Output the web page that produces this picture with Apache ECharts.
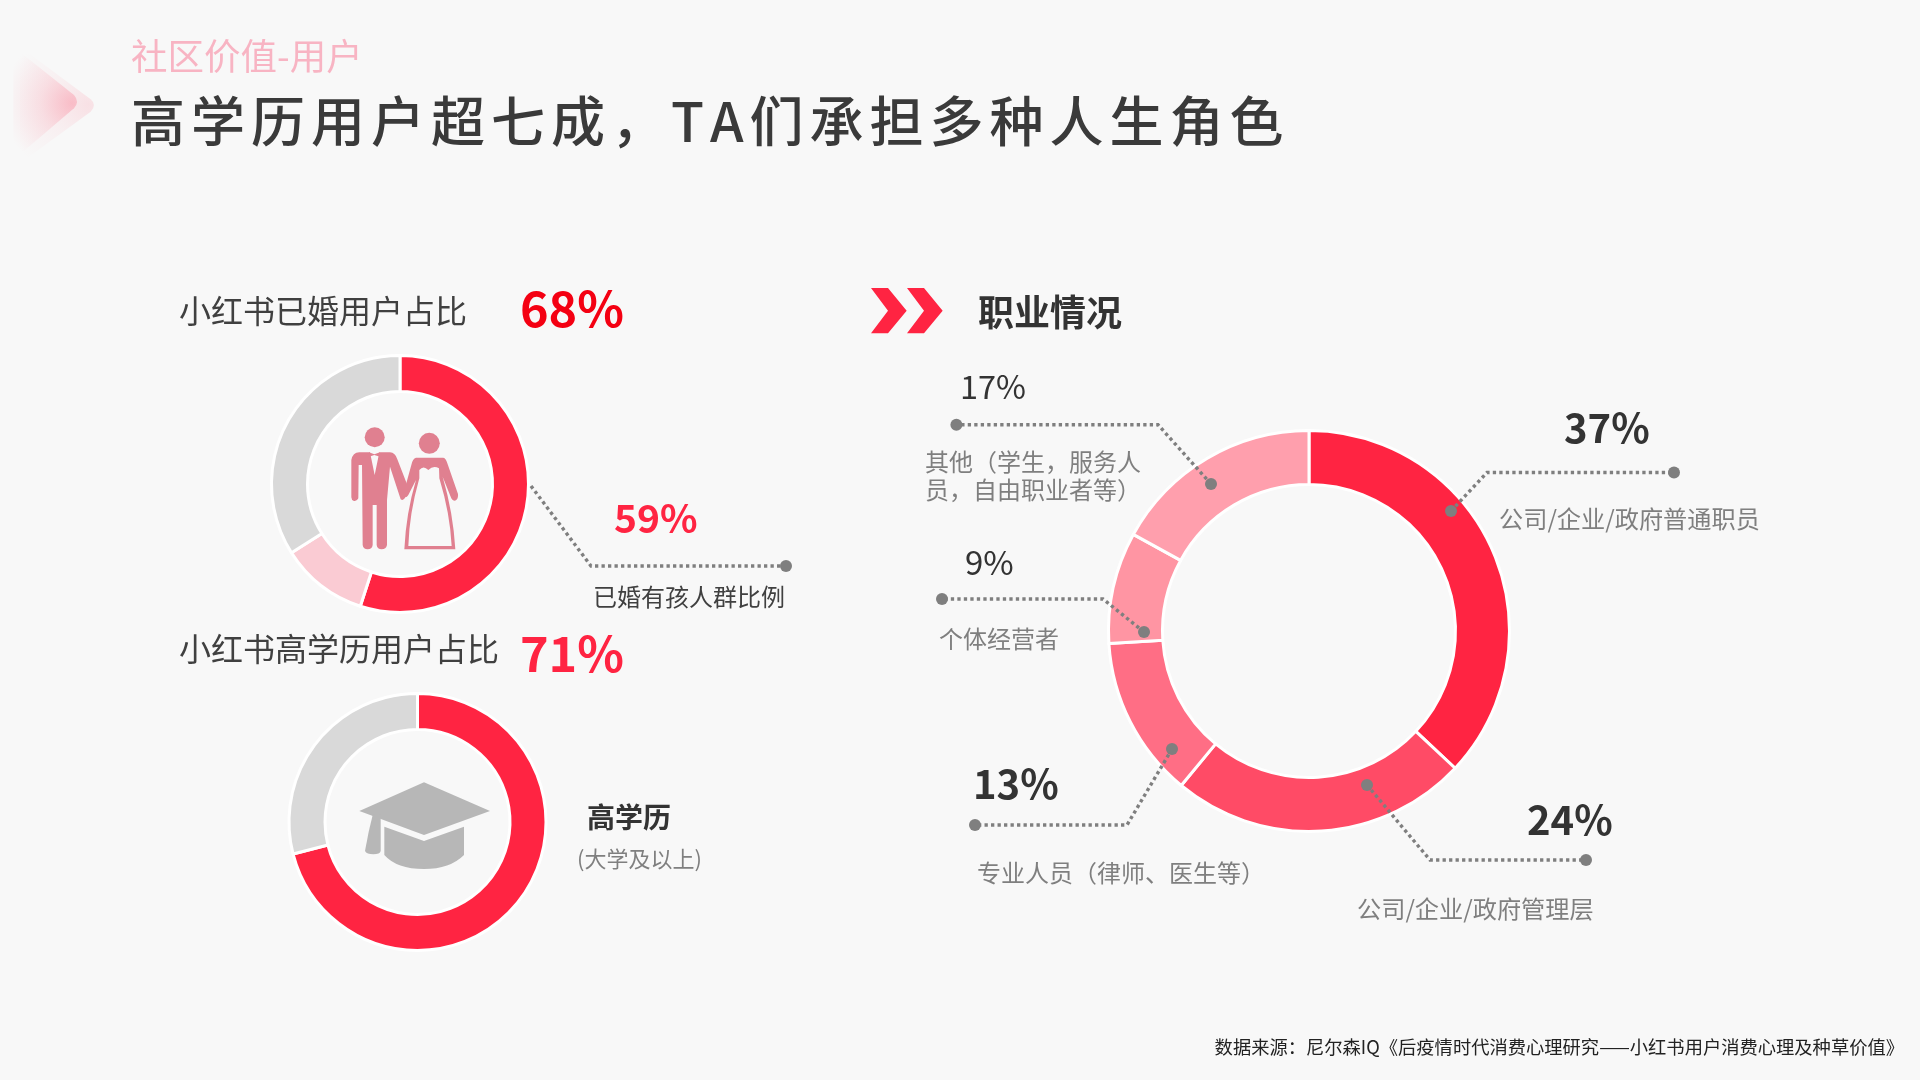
<!DOCTYPE html>
<html>
<head>
<meta charset="utf-8">
<title>社区价值-用户</title>
<style>
html,body{margin:0;padding:0;background:#f8f8f8;}
#main{width:1920px;height:1080px;}
</style>
<script src="https://cdn.jsdelivr.net/npm/echarts@6/dist/echarts.min.js"></script>
</head>
<body>
<div id="main"></div>
<script>
// data
var pageTag = '社区价值-用户';
var pageTitle = '高学历用户超七成，TA们承担多种人生角色';
var sourceNote = '数据来源：尼尔森IQ《后疫情时代消费心理研究——小红书用户消费心理及种草价值》';

var marriedTitle = '小红书已婚用户占比';
var marriedShare = 68;
var marriedNames = ['已婚有孩', '已婚无孩', '其他'];
var marriedValues = [55, 11, 34];
var kidsShare = 59;
var kidsLabel = '已婚有孩人群比例';

var degreeTitle = '小红书高学历用户占比';
var degreeShare = 71;
var degreeNames = ['高学历', '其他'];
var degreeValues = [71, 29];
var degreeLabel = '高学历';
var degreeNote = '(大学及以上)';

var jobTitle = '职业情况';
var jobNames = ['公司/企业/政府普通职员', '公司/企业/政府管理层', '专业人员（律师、医生等）', '个体经营者', '其他（学生，服务人\n员，自由职业者等）'];
var jobValues = [37, 24, 13, 9, 17];

var RED = '#ff2442';
var DARK = '#333333';
var GREY = '#7f7f7f';
var BG = '#f8f8f8';
var FONT = '"Noto Sans CJK SC", sans-serif';

function pct(v) { return v + '%'; }
function toPie(names, values, colors) {
  return values.map(function (v, i) {
    return { name: names[i], value: v, itemStyle: { color: colors[i] } };
  });
}
function pieSeries(center, radius, names, values, colors) {
  return {
    type: 'pie', center: center, radius: radius, startAngle: 90, clockwise: true,
    silent: true, animation: false, label: { show: false }, labelLine: { show: false },
    itemStyle: { borderColor: '#ffffff', borderWidth: 3 },
    data: toPie(names, values, colors)
  };
}
function text(str, x, y, size, color, weight, align) {
  return {
    type: 'text', z: 10,
    style: {
      text: str, x: x, y: y, fill: color, align: align || 'left', verticalAlign: 'middle',
      font: (weight || 'normal') + ' ' + size + 'px ' + FONT, lineHeight: 28
    }
  };
}
function dot(p) {
  return { type: 'circle', z: 11, shape: { cx: p[0], cy: p[1], r: 6 }, style: { fill: GREY } };
}
function dottedLine(points) {
  return { type: 'polyline', z: 11, shape: { points: points }, style: { stroke: GREY, lineWidth: 3.4, lineDash: [3.3, 3.2], fill: null } };
}
// dotted leader with a dot at both ends
function leader(points) {
  return [dottedLine(points), dot(points[0]), dot(points[points.length - 1])];
}
// the graphic component has no plain path type, so icons are registered as shapes
var shapeCount = 0;
function pathShape(d) {
  var name = 'iconShape' + (shapeCount++);
  echarts.graphic.registerShape(name, echarts.graphic.extendPath(d, {}));
  return name;
}
function icon(d, fill, x, y) {
  return { type: pathShape(d), z: 9, x: x, y: y, scaleX: 1 / 3, scaleY: 1 / 3, style: { fill: fill } };
}
function fade(d, alpha) {
  return {
    type: pathShape(d), z: 1, x: 0, y: 40, scaleX: 1 / 3, scaleY: 1 / 3,
    style: {
      fill: new echarts.graphic.RadialGradient(0.92, 0.5, 1.1, [
        { offset: 0, color: 'rgba(249,170,184,' + alpha + ')' },
        { offset: 0.45, color: 'rgba(249,180,192,' + alpha * 0.45 + ')' },
        { offset: 1, color: 'rgba(249,190,200,0)' }
      ])
    }
  };
}

var PINK_ICON = '#e08090';
var CAP = '#b7b7b7';
var CHEVRON = 'M0,0 L51,0 L107,68 L51,136 L0,136 L51,68 Z';

var titleRich = pageTitle.split('').map(function (c) { return '{c|' + c + '}'; }).join('');

var graphics = [
  // header
  fade('M60,20 L272,178 Q292,195 272,215 L60,370 Z', 0.3),
  fade('M40,20 L222,165 Q240,185 222,205 L40,360 Z', 0.7),
  text(pageTag, 131, 56, 36.5, '#f8b4c3'),
  {
    type: 'text', z: 10,
    style: {
      text: titleRich, x: 128, y: 121, verticalAlign: 'middle', fill: '#3a3a3a',
      rich: { c: { font: '500 54px ' + FONT, fill: '#3a3a3a', padding: [0, 3] } }
    }
  },

  // married
  text(marriedTitle, 179, 311, 32, '#404040'),
  text(pct(marriedShare), 520, 309, 48.5, '#f40012', 'bold'),
  text(pct(kidsShare), 614, 518, 39, RED, 'bold'),
  text(kidsLabel, 593, 597, 24, '#404040'),
  { type: 'circle', z: 9, shape: { cx: 374.7, cy: 437.3, r: 10 }, style: { fill: PINK_ICON } },
  { type: 'circle', z: 9, shape: { cx: 429.3, cy: 443.3, r: 10.5 }, style: { fill: PINK_ICON } },
  icon('M58,97 L90,97 L104,165 L118,97 L150,97 Q166,98 172,118 L204,200 L196,232 Q190,244 182,238 L150,140 L141,240 L141,375 Q138,388 125,388 Q112,388 110,375 L110,255 L98,255 L98,375 Q96,388 83,388 Q70,388 68,375 L66,135 L56,135 L55,235 Q50,245 42,243 Q34,240 34,232 L34,120 Q38,98 58,97 Z', PINK_ICON, 340, 420),
  icon('M87,97 L103,103 L120,97 L120,110 L103,105 L87,110 Z', PINK_ICON, 340, 420),
  icon('M228,113 L310,113 Q318,115 322,130 L354,222 Q356,238 345,242 Q336,242 332,230 L308,170 Q340,280 346,388 L193,388 Q198,280 228,180 L205,225 Q195,240 190,222 L214,135 Q218,115 228,113 Z', PINK_ICON, 340, 420),
  icon('M238,150 Q250,135 265,150 Q280,135 297,145 L298,175 Q330,280 335,378 L205,378 Q208,280 238,175 Z', BG, 340, 420),

  // education
  text(degreeTitle, 179, 649, 32, '#404040'),
  text(pct(degreeShare), 520, 654, 48.5, RED, 'bold'),
  text(degreeLabel, 587, 817, 28, DARK, 'bold'),
  text(degreeNote, 577, 859, 22, GREY),
  icon('M222,22 L420,108 L222,180 L28,108 Z', CAP, 350, 775),
  icon('M103,155 L222,198 L342,155 L342,240 Q300,282 222,282 Q140,282 103,240 Z', CAP, 350, 775),
  icon('M68,120 Q85,117 92,120 L92,228 Q90,238 70,238 Q50,238 45,228 Q55,170 68,120 Z', CAP, 350, 775),

  // jobs
  icon(CHEVRON, RED, 871, 288),
  icon(CHEVRON, RED, 907, 288),
  text(jobTitle, 978, 312, 36, DARK, 'bold'),

  text(pct(jobValues[0]), 1564, 428, 40, DARK, 'bold'),
  text(jobNames[0], 1499, 519, 24.2, GREY),
  text(pct(jobValues[1]), 1527, 820, 40, DARK, 'bold'),
  text(jobNames[1], 1357, 909, 24.2, GREY),
  text(pct(jobValues[2]), 973, 784, 40, DARK, 'bold'),
  text(jobNames[2], 977, 873, 24, GREY),
  text(pct(jobValues[3]), 965, 562, 33, DARK),
  text(jobNames[3], 939, 639, 24, GREY),
  text(pct(jobValues[4]), 960, 387, 32.5, DARK),
  text(jobNames[4], 925, 476, 24, GREY),

  // source
  text(sourceNote, 1904, 1047, 18.3, '#222222', 'normal', 'right'),

  // the wedding leader only has a dot at its far end
  dottedLine([[531, 486], [591, 566], [786, 566]]),
  dot([786, 566])
].concat(
  leader([[1451, 511], [1487, 472.5], [1674, 472.5]]),
  leader([[1367, 785], [1430, 860], [1586, 860]]),
  leader([[1172, 749], [1127, 825], [975, 825]]),
  leader([[1144, 632], [1103, 599], [942, 599]]),
  leader([[1211, 484], [1158, 424.7], [956.4, 424.7]])
);

var myChart = echarts.init(document.getElementById('main'));
myChart.setOption({
  backgroundColor: BG,
  animation: false,
  graphic: { elements: graphics },
  series: [
    pieSeries([400, 484], [92.5, 128.5], marriedNames, marriedValues, [RED, '#facbd3', '#d9d9d9']),
    pieSeries([417.5, 822], [92.5, 128.5], degreeNames, degreeValues, [RED, '#d9d9d9']),
    pieSeries([1309, 631], [146.5, 200.5], jobNames, jobValues, [RED, '#ff4b66', '#ff6e85', '#ff95a3', '#ff9fad'])
  ]
});
</script>
</body>
</html>
